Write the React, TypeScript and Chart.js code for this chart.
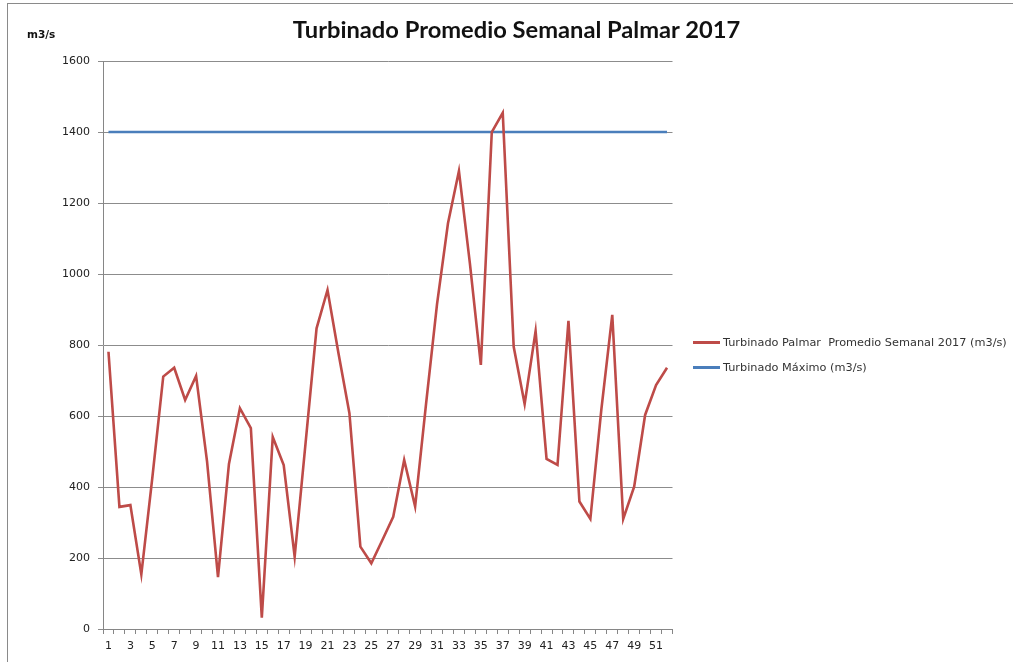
import React, { useEffect, useRef } from "react";
import { Chart, registerables } from "chart.js";

Chart.register(...registerables);

const weeks: string[] = [
  "1", "2", "3", "4", "5", "6", "7", "8", "9", "10",
  "11", "12", "13", "14", "15", "16", "17", "18", "19", "20",
  "21", "22", "23", "24", "25", "26", "27", "28", "29", "30",
  "31", "32", "33", "34", "35", "36", "37", "38", "39", "40",
  "41", "42", "43", "44", "45", "46", "47", "48", "49", "50",
  "51", "52",
];

const turbinadoPalmar: number[] = [
  781, 344, 349, 154, 425, 711, 736, 645, 713, 472,
  146, 465, 622, 566, 32, 541, 462, 204, 525, 847,
  955, 777, 608, 232, 185, 250, 316, 476, 345, 635,
  915, 1143, 1290, 1030, 744, 1400, 1454, 795, 634, 839,
  479, 462, 868, 359, 310, 617, 885, 310, 401, 603,
  687, 736,
];

const turbinadoMaximo = 1400;

const TITLE = "Turbinado Promedio Semanal Palmar 2017";
const UNIT = "m3/s";
const SERIES_1 = "Turbinado Palmar  Promedio Semanal 2017 (m3/s)";
const SERIES_2 = "Turbinado Máximo (m3/s)";

const RED = "#BE4B48";
const BLUE = "#4A7EBB";

export default function App() {
  const ref = useRef<HTMLCanvasElement | null>(null);

  useEffect(() => {
    if (!ref.current) return;
    const chart = new Chart(ref.current, {
      type: "line",
      data: {
        labels: weeks,
        datasets: [
          {
            label: SERIES_1,
            data: turbinadoPalmar,
            borderColor: RED,
            backgroundColor: RED,
            borderWidth: 2.6,
            pointRadius: 0,
            tension: 0,
          },
          {
            label: SERIES_2,
            data: weeks.map(() => turbinadoMaximo),
            borderColor: BLUE,
            backgroundColor: BLUE,
            borderWidth: 2.6,
            pointRadius: 0,
            tension: 0,
          },
        ],
      },
      options: {
        animation: false,
        responsive: false,
        maintainAspectRatio: false,
        layout: { padding: { left: 0, top: 61, right: 340.5, bottom: 0 } },
        plugins: {
          legend: { display: false },
          title: { display: false },
          tooltip: { enabled: false },
        },
        scales: {
          x: {
            type: "category",
            offset: true,
            grid: {
              offset: true,
              drawOnChartArea: false,
              drawTicks: true,
              tickLength: 5,
              color: "#868686",
            },
            border: { display: true, color: "#868686", width: 1 },
            ticks: {
              autoSkip: false,
              maxRotation: 0,
              minRotation: 0,
              padding: 6,
              color: "#222",
              font: { family: "DejaVu Sans", size: 11 },
              callback: (_v: any, i: number) => (i % 2 === 0 ? weeks[i] : ""),
            },
            afterFit: (s: any) => {
              s.height = 33;
            },
          },
          y: {
            min: 0,
            max: 1600,
            ticks: {
              stepSize: 200,
              padding: 8,
              color: "#222",
              font: { family: "DejaVu Sans", size: 11 },
              callback: (v: any) => String(v),
            },
            grid: {
              color: "#8c8c8c",
              lineWidth: 1,
              drawTicks: true,
              tickLength: 5,
            },
            border: { display: true, color: "#868686", width: 1 },
            afterFit: (s: any) => {
              s.width = 103;
            },
          },
        },
      },
    });
    return () => chart.destroy();
  }, []);

  const legendRow = (color: string, text: string, y: number) => (
    <div style={{ position: "absolute", left: 693, top: y - 8, height: 16, display: "flex", alignItems: "center" }}>
      <div style={{ width: 27, height: 3, background: color }} />
      <span
        style={{
          marginLeft: 3,
          fontFamily: "DejaVu Sans",
          fontSize: 11.3,
          color: "#333",
          whiteSpace: "pre",
        }}
      >
        {text}
      </span>
    </div>
  );

  return (
    <div
      style={{
        position: "fixed",
        left: 0,
        top: 0,
        width: 1013,
        height: 662,
        background: "#fff",
        overflow: "hidden",
      }}
    >
      <div style={{ position: "absolute", left: 7, top: 3, width: 1006, height: 659, borderTop: "1px solid #8a8a8a", borderLeft: "1px solid #8a8a8a" }} />
      <canvas ref={ref} width={1013} height={662} style={{ position: "absolute", left: 0, top: 0 }} />
      <div
        style={{
          position: "absolute",
          left: 0,
          width: 1033,
          top: 15,
          textAlign: "center",
          fontFamily: "Lato",
          fontWeight: 700,
          fontSize: 23.7,
          color: "#111",
          whiteSpace: "pre",
        }}
      >
        {TITLE}
      </div>
      <div
        style={{
          position: "absolute",
          left: 27,
          top: 28,
          fontFamily: "DejaVu Sans",
          fontWeight: 700,
          fontSize: 10.5,
          color: "#111",
        }}
      >
        {UNIT}
      </div>
      {legendRow(RED, SERIES_1, 342)}
      {legendRow(BLUE, SERIES_2, 367)}
    </div>
  );
}
